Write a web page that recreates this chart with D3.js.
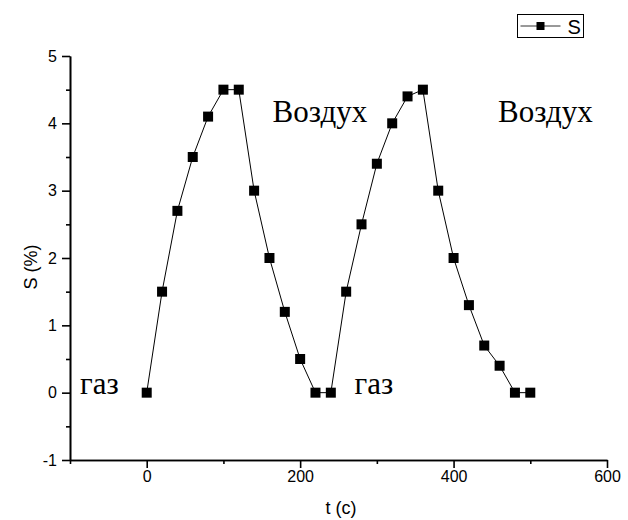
<!DOCTYPE html>
<html>
<head>
<meta charset="utf-8">
<script src="https://cdn.jsdelivr.net/npm/d3@7"></script>
<style>
  body { margin: 0; background: #fff; }
  text { font-family: "Liberation Sans", Arial, sans-serif; }
</style>
</head>
<body>
<div id="chart"></div>
<script>
var width = 628, height = 520;

// data
var times = [0, 20, 40, 60, 80, 100, 120, 140, 160, 180, 200, 220, 240,
             260, 280, 300, 320, 340, 360, 380, 400, 420, 440, 460, 480, 500];
var sValues = [0, 1.5, 2.7, 3.5, 4.1, 4.5, 4.5, 3.0, 2.0, 1.2, 0.5, 0, 0,
               1.5, 2.5, 3.4, 4.0, 4.4, 4.5, 3.0, 2.0, 1.3, 0.7, 0.4, 0, 0];
var xTicks = [0, 200, 400, 600];
var xMinor = [-100, 100, 300, 500];
var yTicks = [-1, 0, 1, 2, 3, 4, 5];
var yMinor = [-0.5, 0.5, 1.5, 2.5, 3.5, 4.5];
var notes = [
    { text: "газ", t: -87, s: 0 },
    { text: "Воздух", t: 164, s: 4.04 },
    { text: "газ", t: 271, s: 0 },
    { text: "Воздух", t: 458, s: 4.04 }
];

var points = times.map(function (t, i) { return { t: t, s: sValues[i] }; });

var svg = d3.select("#chart")
    .append("svg")
    .attr("width", width)
    .attr("height", height);

var x = d3.scaleLinear().domain([-100, 600]).range([70, 607]);
var y = d3.scaleLinear().domain([-1, 5]).range([460, 56]);

var fmt = function (d) { return String(d); };

// axes
svg.append("g")
    .attr("transform", "translate(0," + y(-1) + ")")
    .call(d3.axisBottom(x).tickValues(xMinor).tickSize(4).tickFormat("").tickSizeOuter(0));
svg.append("g")
    .attr("transform", "translate(" + x(-100) + ",0)")
    .call(d3.axisLeft(y).tickValues(yMinor).tickSize(4).tickFormat("").tickSizeOuter(0));

svg.append("g")
    .attr("transform", "translate(0," + y(-1) + ")")
    .call(d3.axisBottom(x).tickValues(xTicks).tickFormat(fmt).tickSize(8).tickSizeOuter(0).tickPadding(3));
svg.append("g")
    .attr("transform", "translate(" + x(-100) + ",0)")
    .call(d3.axisLeft(y).tickValues(yTicks).tickFormat(fmt).tickSize(8).tickSizeOuter(0).tickPadding(5));

svg.selectAll(".domain, .tick line").attr("stroke", "#000").attr("stroke-width", 1.6);
svg.selectAll(".tick text")
    .attr("font-size", 16)
    .attr("font-family", "'Liberation Sans', Arial, sans-serif")
    .attr("fill", "#000");

// axis titles
svg.append("text")
    .attr("x", 341)
    .attr("y", 514)
    .attr("text-anchor", "middle")
    .attr("font-size", 18)
    .text("t (c)");

svg.append("text")
    .attr("transform", "translate(37,267) rotate(-90)")
    .attr("text-anchor", "middle")
    .attr("font-size", 18)
    .text("S (%)");

// line
var line = d3.line()
    .x(function (d) { return x(d.t); })
    .y(function (d) { return y(d.s); });

svg.append("path")
    .datum(points)
    .attr("d", line)
    .attr("fill", "none")
    .attr("stroke", "#000")
    .attr("stroke-width", 1);

// markers
var size = 10;
svg.selectAll(".pt")
    .data(points)
    .enter().append("rect")
    .attr("class", "pt")
    .attr("x", function (d) { return x(d.t) - size / 2; })
    .attr("y", function (d) { return y(d.s) - size / 2; })
    .attr("width", size)
    .attr("height", size)
    .attr("fill", "#000");

// annotations
svg.selectAll(".note")
    .data(notes)
    .enter().append("text")
    .attr("class", "note")
    .attr("x", function (d) { return x(d.t); })
    .attr("y", function (d) { return y(d.s) + 1; })
    .attr("font-size", 31)
    .style("font-family", "'Liberation Serif', 'Times New Roman', serif")
    .text(function (d) { return d.text; });

// legend
var legend = svg.append("g").attr("transform", "translate(517.5,14.5)");
legend.append("rect")
    .attr("width", 66).attr("height", 23)
    .attr("fill", "#fff").attr("stroke", "#000").attr("stroke-width", 1);
legend.append("line")
    .attr("x1", 3).attr("x2", 43).attr("y1", 11.5).attr("y2", 11.5)
    .attr("stroke", "#333").attr("stroke-width", 1);
legend.append("rect")
    .attr("x", 23 - 4).attr("y", 11.5 - 4)
    .attr("width", 8).attr("height", 8).attr("fill", "#000");
legend.append("text")
    .attr("x", 50).attr("y", 19.5)
    .attr("font-size", 20)
    .text("S");
</script>
</body>
</html>
